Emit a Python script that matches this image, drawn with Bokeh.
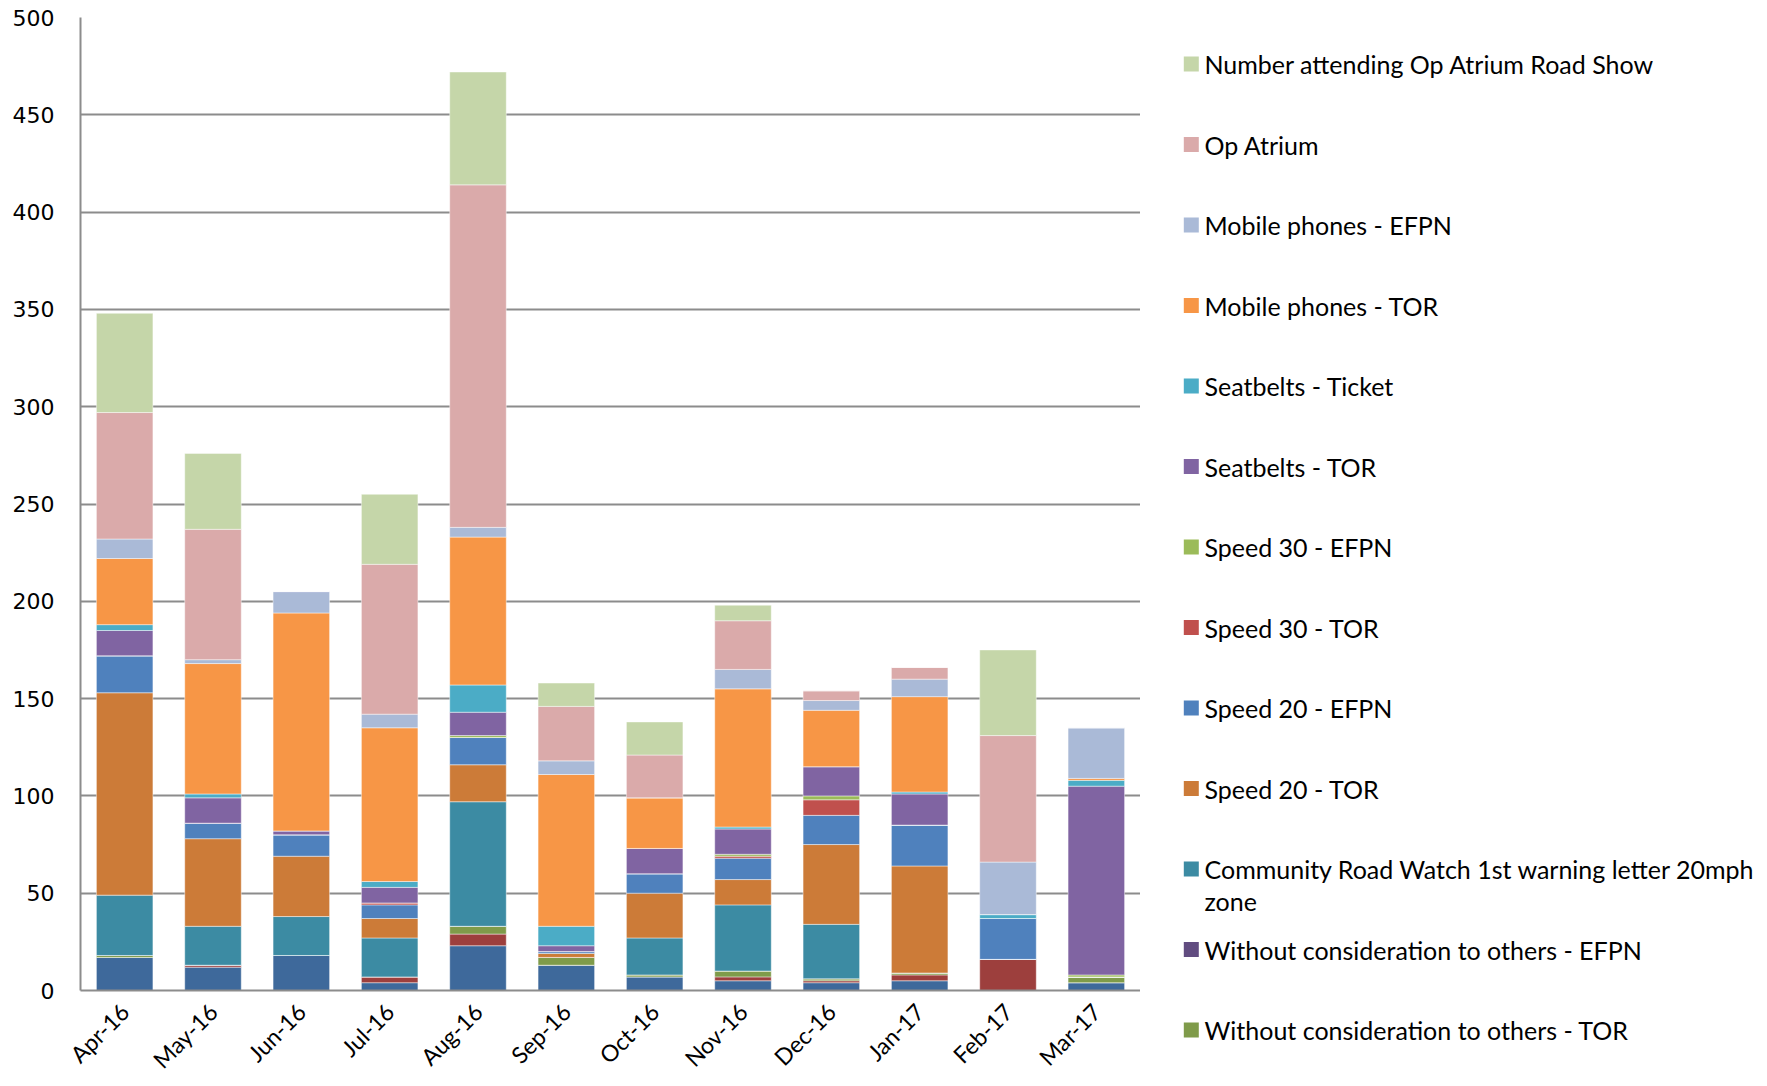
import math
from bokeh.plotting import figure
from bokeh.models import Range1d, FactorRange, FixedTicker, ColumnDataSource
from bokeh.layouts import row
from bokeh.embed import file_html
from bokeh.resources import INLINE
from bokeh.core.properties import value

months = ["Apr-16", "May-16", "Jun-16", "Jul-16", "Aug-16", "Sep-16",
          "Oct-16", "Nov-16", "Dec-16", "Jan-17", "Feb-17", "Mar-17"]

# series, bottom of stack first (the two lowest series' legend entries are cut off in the original)
s_bottom1 = [17, 12, 18, 4, 23, 13, 7, 5, 4, 5, 0, 4]
s_bottom2 = [0, 1, 0, 3, 6, 0, 0, 2, 1, 3, 16, 0]
without_tor = [1, 0, 0, 0, 4, 4, 1, 3, 1, 1, 0, 3]
without_efpn = [0, 0, 0, 0, 0, 0, 0, 0, 0, 0, 0, 0]
crw = [31, 20, 20, 20, 64, 0, 19, 34, 28, 0, 0, 0]
speed20_tor = [104, 45, 31, 10, 19, 2, 23, 13, 41, 55, 0, 0]
speed20_efpn = [19, 8, 11, 7, 14, 1, 10, 11, 15, 21, 21, 0]
speed30_tor = [0, 0, 0, 1, 0, 0, 0, 1, 8, 0, 0, 0]
speed30_efpn = [0, 0, 0, 0, 1, 0, 0, 1, 2, 0, 0, 1]
seatbelts_tor = [13, 13, 2, 8, 12, 3, 13, 13, 15, 16, 0, 97]
seatbelts_ticket = [3, 2, 0, 3, 14, 10, 0, 1, 0, 1, 2, 3]
mobile_tor = [34, 67, 112, 79, 76, 78, 26, 71, 29, 49, 0, 1]
mobile_efpn = [10, 2, 11, 7, 5, 7, 0, 10, 5, 9, 27, 26]
op_atrium = [65, 67, 0, 77, 176, 28, 22, 25, 5, 6, 65, 0]
road_show = [51, 39, 0, 36, 58, 12, 17, 8, 0, 0, 44, 0]

series_keys = ["s_bottom1", "s_bottom2", "without_tor", "without_efpn", "crw",
               "speed20_tor", "speed20_efpn", "speed30_tor", "speed30_efpn",
               "seatbelts_tor", "seatbelts_ticket", "mobile_tor", "mobile_efpn",
               "op_atrium", "road_show"]
series_values = [s_bottom1, s_bottom2, without_tor, without_efpn, crw,
                 speed20_tor, speed20_efpn, speed30_tor, speed30_efpn,
                 seatbelts_tor, seatbelts_ticket, mobile_tor, mobile_efpn,
                 op_atrium, road_show]
series_colors = ["#3E699B", "#9D3F3D", "#7F9B4A", "#614C80", "#3C8BA3",
                 "#CC7B38", "#4F81BD", "#C0504D", "#9BBB59",
                 "#8064A2", "#4BACC6", "#F79646", "#AABAD7",
                 "#DAAAAA", "#C5D6A9"]

# legend, top to bottom (as listed in the original)
legend_keys = ["road_show", "op_atrium", "mobile_efpn", "mobile_tor", "seatbelts_ticket",
               "seatbelts_tor", "speed30_efpn", "speed30_tor", "speed20_efpn",
               "speed20_tor", "crw", "without_efpn", "without_tor"]
legend_labels = ["Number attending Op Atrium Road Show", "Op Atrium",
                 "Mobile phones - EFPN", "Mobile phones - TOR", "Seatbelts - Ticket",
                 "Seatbelts - TOR", "Speed 30 - EFPN", "Speed 30 - TOR",
                 "Speed 20 - EFPN", "Speed 20 - TOR",
                 "Community Road Watch 1st warning letter 20mph\nzone",
                 "Without consideration to others - EFPN",
                 "Without consideration to others - TOR"]

y_ticks = [0, 50, 100, 150, 200, 250, 300, 350, 400, 450, 500]

GRID = "#8C8C8C"
LABEL_FONT = "Lato"
CW, H = 1140, 1086
LW = 624

data = {"months": months}
for k, v in zip(series_keys, series_values):
    data[k] = v
source = ColumnDataSource(data)

p = figure(x_range=FactorRange(*months), y_range=Range1d(0, 500),
           width=CW, height=H, output_backend="svg", toolbar_location=None,
           min_border_left=80, min_border_right=0, min_border_top=17, min_border_bottom=94)
p.frame_align = False
p.outline_line_color = None
p.x_range.range_padding = 0

p.vbar_stack(series_keys, x="months", width=0.64, color=series_colors,
             line_color="white", line_alpha=0.45, line_width=1, source=source)

p.xgrid.visible = False
p.ygrid.grid_line_color = GRID
p.ygrid.grid_line_width = 2
p.yaxis.ticker = FixedTicker(ticks=y_ticks)
p.yaxis.axis_line_color = GRID
p.yaxis.axis_line_width = 2
p.yaxis.major_tick_line_color = None
p.yaxis.minor_tick_line_color = None
p.yaxis.major_tick_out = 0
p.yaxis.major_tick_in = 0
p.yaxis.major_label_standoff = 26
p.yaxis.major_label_text_font = "DejaVu Sans"
p.yaxis.major_label_text_font_size = "22px"
p.yaxis.major_label_text_color = "#000000"

p.xaxis.axis_line_color = GRID
p.xaxis.axis_line_width = 2
p.xaxis.major_tick_line_color = None
p.xaxis.minor_tick_line_color = None
p.xaxis.major_tick_out = 0
p.xaxis.major_tick_in = 0
p.xaxis.major_label_orientation = math.pi / 4
p.xaxis.major_label_standoff = 17
p.xaxis.major_label_text_font = LABEL_FONT
p.xaxis.major_label_text_font_size = "23px"
p.xaxis.major_label_text_color = "#000000"

# legend panel: a second figure whose ranges are in screen pixels
lg = figure(x_range=Range1d(0, LW), y_range=Range1d(H, 0), width=LW, height=H,
            output_backend="svg", toolbar_location=None,
            x_axis_location=None, y_axis_location=None, min_border=0)
lg.frame_align = False
lg.grid.visible = False
lg.outline_line_color = None

top0, pitch, line_h = 63.5, 80.5, 32
sw_x, tx_x = 1190.8 - CW, 1204 - CW
color_of = dict(zip(series_keys, series_colors))
sq_x, sq_y, sq_c = [], [], []
t_x, t_y, t_s = [], [], []
for i, (key, lab) in enumerate(zip(legend_keys, legend_labels)):
    yc = top0 + i * pitch
    sq_x.append(sw_x)
    sq_y.append(yc)
    sq_c.append(color_of[key])
    for j, line in enumerate(lab.split("\n")):
        t_x.append(tx_x)
        t_y.append(yc + j * line_h)
        t_s.append(line)

lg.rect(x=sq_x, y=sq_y, width=15, height=15, color=sq_c, line_color=None)
lg.text(x=t_x, y=t_y, text=t_s, text_baseline="middle", text_align="left",
        text_font=value(LABEL_FONT), text_font_size="25px", text_color="#000000")

layout = row(p, lg)
open("out.html", "w").write(file_html(layout, INLINE))
